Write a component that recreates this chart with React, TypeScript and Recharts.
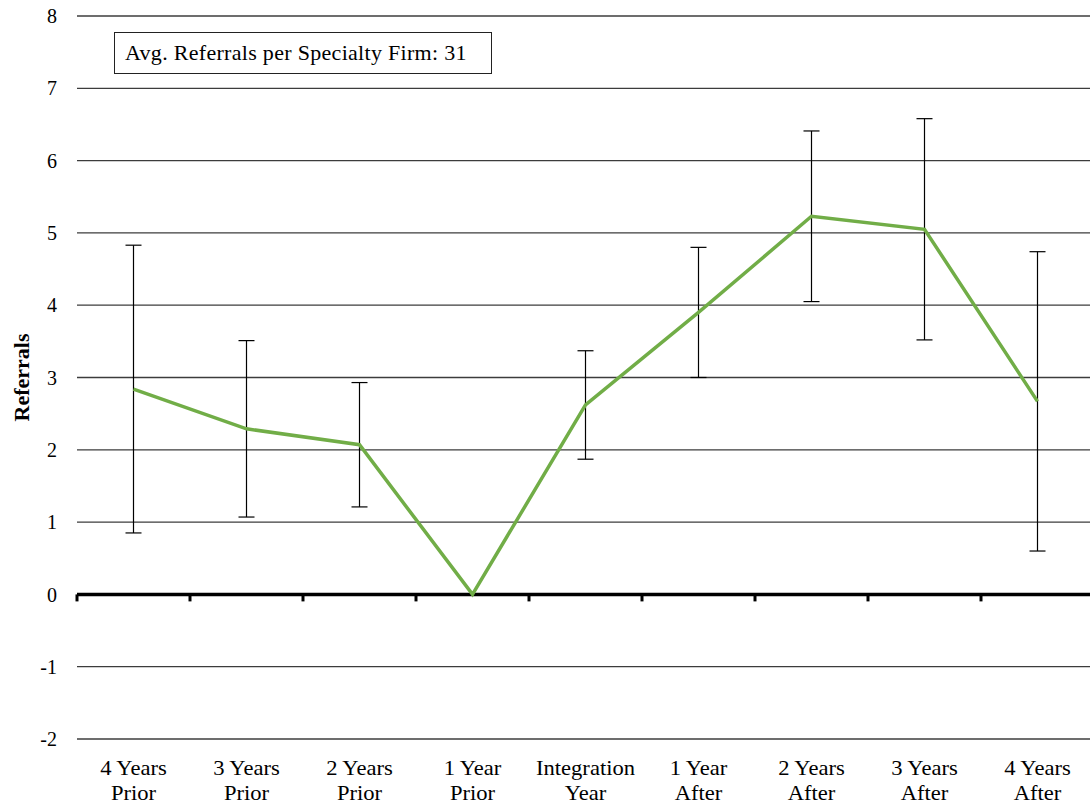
import React from 'react';
import { LineChart, Line, XAxis, YAxis, CartesianGrid, ErrorBar, ReferenceLine } from 'recharts';

// Periods relative to the integration year
const periods = [
  '4 Years Prior',
  '3 Years Prior',
  '2 Years Prior',
  '1 Year Prior',
  'Integration Year',
  '1 Year After',
  '2 Years After',
  '3 Years After',
  '4 Years After',
];

// Mean referrals per period and the half-width of each error bar
const meanReferrals = [2.84, 2.29, 2.07, 0, 2.62, 3.9, 5.23, 5.05, 2.67];
const errorMargins = [1.99, 1.22, 0.86, 0, 0.75, 0.9, 1.18, 1.53, 2.07];

const yTicks = [-2, -1, 0, 1, 2, 3, 4, 5, 6, 7, 8];
const annotation = 'Avg. Referrals per Specialty Firm: 31';
const yAxisTitle = 'Referrals';

const data = periods.map((period, i) => ({
  period,
  mean: meanReferrals[i],
  err: errorMargins[i],
}));

const FONT = '"Liberation Serif", "Times New Roman", Times, serif';

// Two-line category label: last word goes on the second line
const CategoryTick = (props: any) => {
  const { x, y, payload } = props;
  const label: string = payload.value;
  const cut = label.lastIndexOf(' ');
  const first = label.slice(0, cut);
  const second = label.slice(cut + 1);
  return (
    <text
      transform={`translate(${x} ${y}) scale(1.13 1)`}
      textAnchor="middle"
      fontFamily={FONT}
      fontSize={20}
      fill="#000"
    >
      <tspan x={0} dy={36}>{first}</tspan>
      <tspan x={0} dy={25}>{second}</tspan>
    </text>
  );
};

// Heavy zero baseline with tick marks at the category boundaries
const ZeroAxis = (props: any) => {
  const { x1, y1, x2 } = props;
  const n = periods.length;
  const step = (x2 - x1) / n;
  return (
    <g>
      <line x1={x1} y1={y1} x2={x2} y2={y1} stroke="#000" strokeWidth={3.5} />
      {Array.from({ length: n + 1 }, (_, i) => (
        <line
          key={i}
          x1={x1 + i * step}
          x2={x1 + i * step}
          y1={y1}
          y2={y1 + 7}
          stroke="#000"
          strokeWidth={3}
        />
      ))}
    </g>
  );
};

const YTitle = (props: any) => {
  const vb = props.viewBox;
  const cx = vb.x + 21;
  const cy = vb.y + vb.height / 2;
  return (
    <text
      x={cx}
      y={cy}
      transform={`rotate(-90 ${cx} ${cy})`}
      textAnchor="middle"
      dominantBaseline="central"
      fontFamily={FONT}
      fontWeight="bold"
      fontSize={22}
      fill="#000"
    >
      {yAxisTitle}
    </text>
  );
};

export default function App() {
  return (
    <div
      style={{
        position: 'fixed',
        left: 0,
        top: 0,
        width: 1090,
        height: 809,
        overflow: 'hidden',
        background: '#fff',
      }}
    >
      <LineChart
        width={1100}
        height={809}
        data={data}
        margin={{ top: 16, right: 6, bottom: 0, left: 0 }}
      >
        <CartesianGrid vertical={false} stroke="#3c3c3c" strokeWidth={1.3} />
        <XAxis
          dataKey="period"
          scale="band"
          axisLine={false}
          tickLine={false}
          tickSize={0}
          tickMargin={0}
          interval={0}
          height={70}
          tick={<CategoryTick />}
        />
        <YAxis
          type="number"
          domain={[-2, 8]}
          ticks={yTicks}
          interval={0}
          axisLine={false}
          tickLine={false}
          tickSize={0}
          tickMargin={20}
          width={77}
          tick={{ fontSize: 20, fill: '#000', fontFamily: FONT }}
          label={{ content: <YTitle /> }}
        />
        <ReferenceLine y={0} shape={<ZeroAxis />} />
        <Line
          type="linear"
          dataKey="mean"
          stroke="#71AD47"
          strokeWidth={3.5}
          dot={false}
          activeDot={false}
          isAnimationActive={false}
        >
          <ErrorBar
            dataKey="err"
            direction="y"
            width={8}
            stroke="#000"
            strokeWidth={1.2}
            isAnimationActive={false}
          />
        </Line>
      </LineChart>
      <div
        style={{
          position: 'absolute',
          left: 114,
          top: 32,
          width: 378,
          height: 42,
          boxSizing: 'border-box',
          border: '1.5px solid #222',
          background: '#fff',
          fontFamily: FONT,
          fontSize: 22,
          letterSpacing: 0.3,
          lineHeight: '39px',
          paddingLeft: 10,
          color: '#000',
          whiteSpace: 'nowrap',
        }}
      >
        {annotation}
      </div>
    </div>
  );
}
